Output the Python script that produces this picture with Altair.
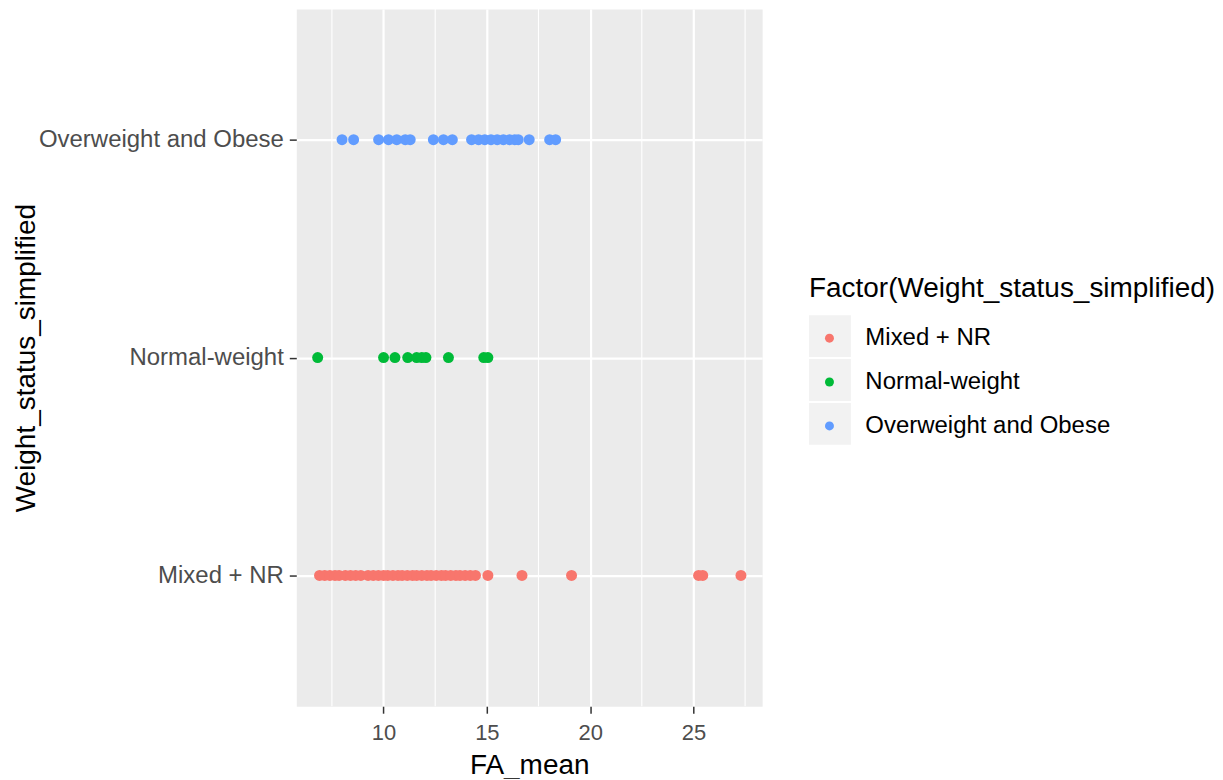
import altair as alt
import pandas as pd

# ---- data ----
categories = ["Mixed + NR", "Normal-weight", "Overweight and Obese"]
y_order = ["Overweight and Obese", "Normal-weight", "Mixed + NR"]
colors = ["#F8766D", "#00BA38", "#619CFF"]

mixed_nr = [6.9, 7.15, 7.4, 7.65, 7.85, 8.15, 8.4, 8.65, 8.9, 9.25, 9.5, 9.75,
            10.0, 10.2, 10.45, 10.7, 10.9, 11.15, 11.4, 11.6, 11.85, 12.1, 12.3,
            12.55, 12.8, 13.0, 13.25, 13.5, 13.7, 13.95, 14.2, 14.45, 15.05,
            16.7, 19.1, 25.25, 25.45, 27.3]
normal_weight = [6.81, 10.0, 10.55, 11.17, 11.6, 11.85, 12.05, 13.14, 14.85, 15.05]
overweight_obese = [7.99, 8.55, 9.76, 10.24, 10.64, 11.05, 11.29, 12.41, 12.9,
                    13.33, 14.26, 14.6, 14.9, 15.2, 15.5, 15.8, 16.1, 16.35, 16.52,
                    17.05, 18.04, 18.33]

x_ticks = [10, 15, 20, 25]
x_minor = [7.5, 12.5, 17.5, 22.5, 27.5]
x_domain = [5.775, 28.325]

rows = []
for cat, vals in zip(categories, [mixed_nr, normal_weight, overweight_obese]):
    for v in vals:
        rows.append({"FA_mean": v, "Weight_status_simplified": cat, "key": cat})
df = pd.DataFrame(rows)
minor_df = pd.DataFrame({"m": x_minor})

FONT = "Liberation Sans"

x_enc = alt.X(
    "FA_mean:Q",
    scale=alt.Scale(domain=x_domain, nice=False, zero=False),
    axis=alt.Axis(
        values=x_ticks, grid=True, gridColor="white", gridWidth=2.2,
        domain=False, tickColor="#333333", tickWidth=1.5, tickSize=7,
        labelColor="#4D4D4D", labelFontSize=22, labelPadding=9, labelFont=FONT,
        title="FA_mean", titleFontSize=28, titleFont=FONT, titleColor="black",
        titleFontWeight="normal", titlePadding=8,
    ),
)
y_enc = alt.Y(
    "Weight_status_simplified:N",
    scale=alt.Scale(type="point", padding=0.6, domain=y_order),
    axis=alt.Axis(
        grid=True, gridColor="white", gridWidth=2.2, domain=False,
        tickColor="#333333", tickWidth=1.5, tickSize=7,
        labelColor="#4D4D4D", labelFontSize=24, labelPadding=6, labelFont=FONT,
        labelLimit=0,
        title="Weight_status_simplified", titleFontSize=28, titleFont=FONT,
        titleColor="black", titleFontWeight="normal", titlePadding=56,
    ),
)

minor = alt.Chart(minor_df).mark_rule(color="white", strokeWidth=1.1).encode(
    x=alt.X("m:Q", scale=alt.Scale(domain=x_domain, nice=False, zero=False))
)

points = alt.Chart(df).mark_circle(size=121, opacity=1).encode(
    x=x_enc,
    y=y_enc,
    color=alt.Color(
        "Weight_status_simplified:N",
        scale=alt.Scale(domain=categories, range=colors),
        legend=alt.Legend(
            title=None, orient="none", legendX=522.5, legendY=318, padding=0,
            symbolType="circle", symbolSize=81, symbolOpacity=1,
            labelFontSize=24, labelFont=FONT, labelColor="black",
            labelOffset=24, rowPadding=20, labelLimit=0,
        ),
    ),
)

bg = alt.Chart(df).mark_point(filled=True, size=0, color="#F2F2F2", strokeWidth=0).encode(
    x=alt.X("FA_mean:Q"),
    y=alt.Y("Weight_status_simplified:N"),
    shape=alt.Shape(
        "key:N",
        scale=alt.Scale(range=["square", "square", "square"]),
        legend=alt.Legend(
            title="Factor(Weight_status_simplified)", titleFontSize=28,
            titleFont=FONT, titleColor="black", titleFontWeight="normal",
            titlePadding=12, titleLimit=0, orient="none", legendX=514, legendY=267,
            padding=0, symbolSize=1764, symbolStrokeWidth=0, symbolOpacity=1,
            symbolFillColor="#F2F2F2",
            labelExpr="''", labelFontSize=10, rowPadding=2,
        ),
    ),
)

chart = alt.layer(minor, bg, points).properties(
    width=467, height=699,
    padding={"left": 289, "top": 0, "right": 454, "bottom": 72},
    autosize=alt.AutoSizeParams(type="none"),
    background="white",
).configure_view(fill="#EBEBEB", stroke="transparent")

chart.save("out.html", embed_options={"renderer": "svg", "actions": False})
